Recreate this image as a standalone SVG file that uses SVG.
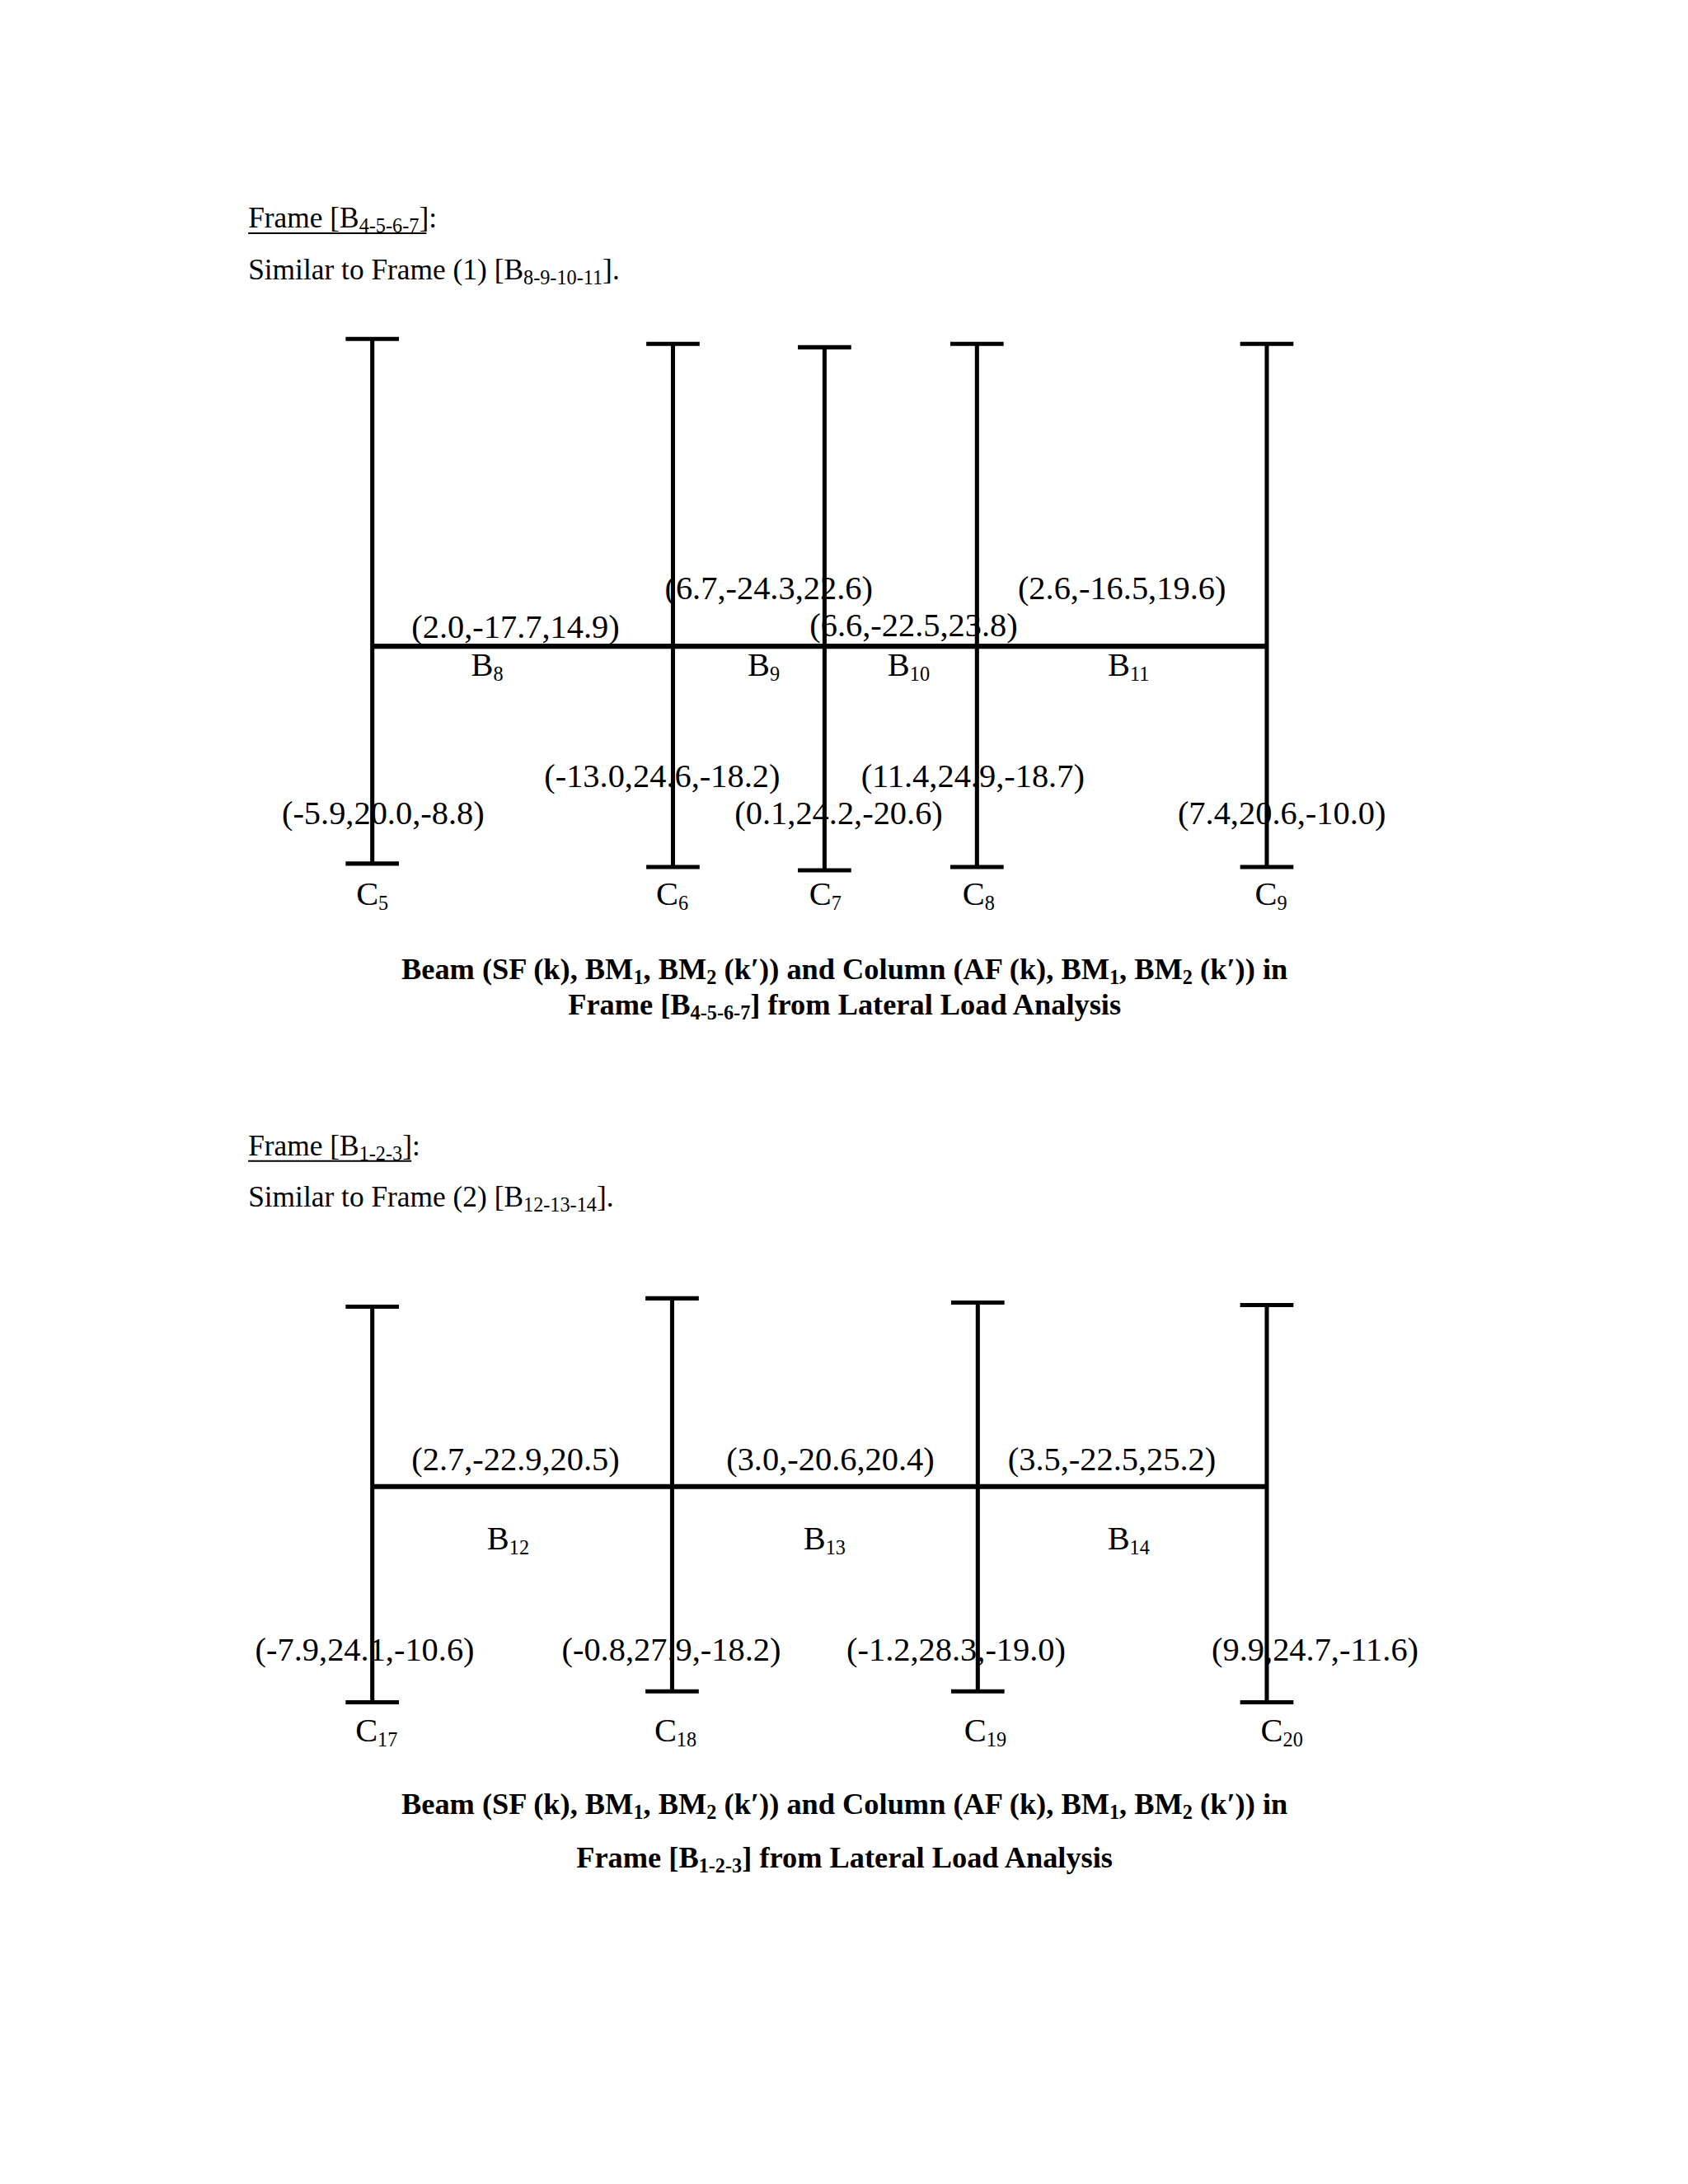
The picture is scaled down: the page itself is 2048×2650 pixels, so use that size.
<svg xmlns="http://www.w3.org/2000/svg" width="2048" height="2650" viewBox="0 0 2048 2650">
<style>
text{font-family:"Liberation Serif","Times New Roman",serif;fill:#000}
.h{font-size:35px}
.l{font-size:40px;text-anchor:middle}
.c{font-size:36px;font-weight:bold;text-anchor:middle}
.s{font-size:24px}
line{stroke:#000;stroke-width:5}
.b{stroke-width:6}
.u{stroke-width:2}
</style>
<rect width="2048" height="2650" fill="#fff"/>
<g transform="scale(1.0105)">
<g id="frame1-title">
<text class="h" x="298" y="273">Frame [B<tspan class="s" dy="6">4-5-6-7</tspan><tspan dy="-6">]:</tspan></text>
<line class="u" x1="298" y1="280" x2="512" y2="280"/>
<text class="h" x="298" y="335">Similar to Frame (1) [B<tspan class="s" dy="6">8-9-10-11</tspan><tspan dy="-6">].</tspan></text>
</g>
<g id="frame1-connectors">
<line class="b" x1="447" y1="776" x2="1521" y2="776"/>
<line x1="447" y1="407" x2="447" y2="1037"/><line x1="415" y1="407" x2="479" y2="407"/><line x1="415" y1="1037" x2="479" y2="1037"/>
<line x1="808" y1="413" x2="808" y2="1041"/><line x1="776" y1="413" x2="840" y2="413"/><line x1="776" y1="1041" x2="840" y2="1041"/>
<line x1="990" y1="417" x2="990" y2="1045"/><line x1="958" y1="417" x2="1022" y2="417"/><line x1="958" y1="1045" x2="1022" y2="1045"/>
<line x1="1173" y1="413" x2="1173" y2="1041"/><line x1="1141" y1="413" x2="1205" y2="413"/><line x1="1141" y1="1041" x2="1205" y2="1041"/>
<line x1="1521" y1="413" x2="1521" y2="1041"/><line x1="1489" y1="413" x2="1553" y2="413"/><line x1="1489" y1="1041" x2="1553" y2="1041"/>
</g>
<g id="frame1-labels">
<text class="l" x="619" y="766">(2.0,-17.7,14.9)</text>
<text class="l" x="923" y="719">(6.7,-24.3,22.6)</text>
<text class="l" x="1097" y="764">(6.6,-22.5,23.8)</text>
<text class="l" x="1347" y="719">(2.6,-16.5,19.6)</text>
<text class="l" x="585" y="811">B<tspan class="s" dy="6">8</tspan></text>
<text class="l" x="917" y="811">B<tspan class="s" dy="6">9</tspan></text>
<text class="l" x="1091" y="811">B<tspan class="s" dy="6">10</tspan></text>
<text class="l" x="1355" y="811">B<tspan class="s" dy="6">11</tspan></text>
<text class="l" x="795" y="945">(-13.0,24.6,-18.2)</text>
<text class="l" x="1168" y="945">(11.4,24.9,-18.7)</text>
<text class="l" x="460" y="990">(-5.9,20.0,-8.8)</text>
<text class="l" x="1007" y="990">(0.1,24.2,-20.6)</text>
<text class="l" x="1539" y="990">(7.4,20.6,-10.0)</text>
<text class="l" x="447" y="1087">C<tspan class="s" dy="6">5</tspan></text>
<text class="l" x="807" y="1087">C<tspan class="s" dy="6">6</tspan></text>
<text class="l" x="991" y="1087">C<tspan class="s" dy="6">7</tspan></text>
<text class="l" x="1175" y="1087">C<tspan class="s" dy="6">8</tspan></text>
<text class="l" x="1526" y="1087">C<tspan class="s" dy="6">9</tspan></text>
<text class="c" x="1014" y="1176">Beam (SF (k), BM<tspan class="s" dy="6">1</tspan><tspan dy="-6">, BM</tspan><tspan class="s" dy="6">2</tspan><tspan dy="-6"> (k′)) and Column (AF (k), BM</tspan><tspan class="s" dy="6">1</tspan><tspan dy="-6">, BM</tspan><tspan class="s" dy="6">2</tspan><tspan dy="-6"> (k′)) in</tspan></text>
<text class="c" x="1014" y="1218">Frame [B<tspan class="s" dy="6">4-5-6-7</tspan><tspan dy="-6">] from Lateral Load Analysis</tspan></text>
</g>
<g id="frame2-title">
<text class="h" x="298" y="1387">Frame [B<tspan class="s" dy="6">1-2-3</tspan><tspan dy="-6">]:</tspan></text>
<line class="u" x1="298" y1="1394" x2="494" y2="1394"/>
<text class="h" x="298" y="1449">Similar to Frame (2) [B<tspan class="s" dy="6">12-13-14</tspan><tspan dy="-6">].</tspan></text>
</g>
<g id="frame2-connectors">
<line class="b" x1="447" y1="1785" x2="1521" y2="1785"/>
<line x1="447" y1="1569" x2="447" y2="2044"/><line x1="415" y1="1569" x2="479" y2="1569"/><line x1="415" y1="2044" x2="479" y2="2044"/>
<line x1="807" y1="1559" x2="807" y2="2031"/><line x1="775" y1="1559" x2="839" y2="1559"/><line x1="775" y1="2031" x2="839" y2="2031"/>
<line x1="1174" y1="1564" x2="1174" y2="2031"/><line x1="1142" y1="1564" x2="1206" y2="1564"/><line x1="1142" y1="2031" x2="1206" y2="2031"/>
<line x1="1521" y1="1567" x2="1521" y2="2044"/><line x1="1489" y1="1567" x2="1553" y2="1567"/><line x1="1489" y1="2044" x2="1553" y2="2044"/>
</g>
<g id="frame2-labels">
<text class="l" x="619" y="1765">(2.7,-22.9,20.5)</text>
<text class="l" x="997" y="1765">(3.0,-20.6,20.4)</text>
<text class="l" x="1335" y="1765">(3.5,-22.5,25.2)</text>
<text class="l" x="610" y="1860">B<tspan class="s" dy="6">12</tspan></text>
<text class="l" x="990" y="1860">B<tspan class="s" dy="6">13</tspan></text>
<text class="l" x="1355" y="1860">B<tspan class="s" dy="6">14</tspan></text>
<text class="l" x="438" y="1994">(-7.9,24.1,-10.6)</text>
<text class="l" x="806" y="1994">(-0.8,27.9,-18.2)</text>
<text class="l" x="1148" y="1994">(-1.2,28.3,-19.0)</text>
<text class="l" x="1579" y="1994">(9.9,24.7,-11.6)</text>
<text class="l" x="452" y="2091">C<tspan class="s" dy="6">17</tspan></text>
<text class="l" x="811" y="2091">C<tspan class="s" dy="6">18</tspan></text>
<text class="l" x="1183" y="2091">C<tspan class="s" dy="6">19</tspan></text>
<text class="l" x="1539" y="2091">C<tspan class="s" dy="6">20</tspan></text>
<text class="c" x="1014" y="2178">Beam (SF (k), BM<tspan class="s" dy="6">1</tspan><tspan dy="-6">, BM</tspan><tspan class="s" dy="6">2</tspan><tspan dy="-6"> (k′)) and Column (AF (k), BM</tspan><tspan class="s" dy="6">1</tspan><tspan dy="-6">, BM</tspan><tspan class="s" dy="6">2</tspan><tspan dy="-6"> (k′)) in</tspan></text>
<text class="c" x="1014" y="2242">Frame [B<tspan class="s" dy="6">1-2-3</tspan><tspan dy="-6">] from Lateral Load Analysis</tspan></text>
</g>
</g>
</svg>
